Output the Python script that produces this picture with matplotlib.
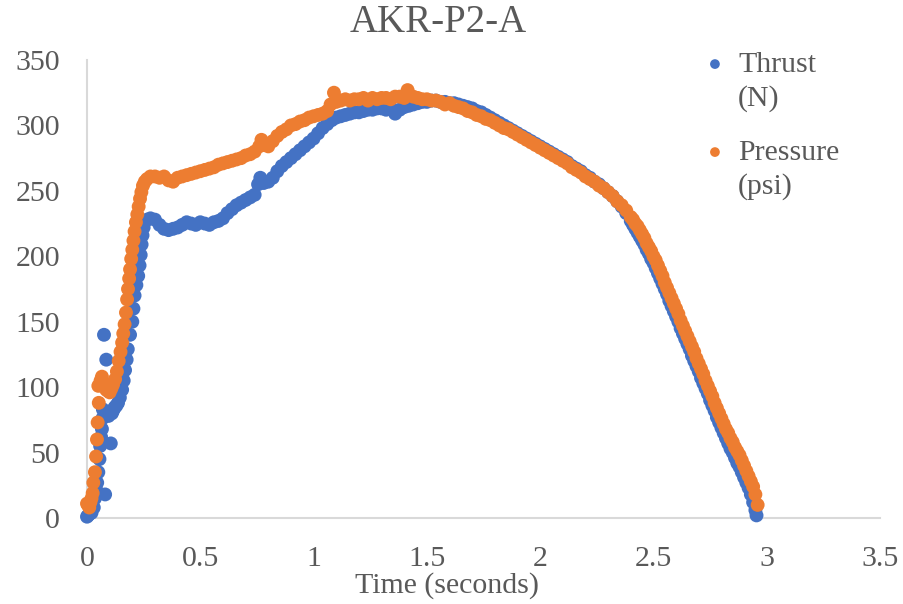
import matplotlib
matplotlib.use("Agg")
import matplotlib.pyplot as plt
from matplotlib.lines import Line2D

plt.rcParams['font.family'] = ['Liberation Serif', 'DejaVu Serif']

title = "AKR-P2-A"
x_label = "Time (seconds)"
series_names = ["Thrust", "Pressure"]
series_units = ["(N)", "(psi)"]
series_colors = ["#4472C4", "#ED7D31"]
x_ticks = [0, 0.5, 1, 1.5, 2, 2.5, 3, 3.5]
x_tick_labels = ["0", "0.5", "1", "1.5", "2", "2.5", "3", "3.5"]
y_ticks = [0, 50, 100, 150, 200, 250, 300, 350]
y_tick_labels = ["0", "50", "100", "150", "200", "250", "300", "350"]

thrust_time = [
    0.000, 0.005, 0.010, 0.015, 0.020, 0.030, 0.035, 0.040, 0.045, 0.050,
    0.055, 0.058, 0.062, 0.066, 0.068, 0.070, 0.075, 0.080, 0.085, 0.090,
    0.095, 0.100, 0.105, 0.110, 0.115, 0.120, 0.125, 0.130, 0.137, 0.145,
    0.155, 0.162, 0.168, 0.175, 0.180, 0.190, 0.200, 0.205, 0.210, 0.218,
    0.226, 0.232, 0.237, 0.241, 0.245, 0.250, 0.257, 0.265, 0.280, 0.300,
    0.320, 0.340, 0.360, 0.380, 0.400, 0.420, 0.440, 0.460, 0.480, 0.500,
    0.520, 0.540, 0.560, 0.580, 0.600, 0.620, 0.640, 0.660, 0.680, 0.700,
    0.720, 0.740, 0.755, 0.765, 0.780, 0.800, 0.820, 0.840, 0.860, 0.880,
    0.900, 0.920, 0.940, 0.960, 0.980, 1.000, 1.020, 1.040, 1.060, 1.080,
    1.100, 1.120, 1.140, 1.160, 1.180, 1.200, 1.220, 1.240, 1.260, 1.280,
    1.300, 1.320, 1.340, 1.360, 1.380, 1.400, 1.420, 1.440, 1.460, 1.480,
    1.500, 1.520, 1.540, 1.560, 1.580, 1.600, 1.620, 1.640, 1.660, 1.680,
    1.700, 1.720, 1.740, 1.760, 1.780, 1.800, 1.820, 1.840, 1.860, 1.880,
    1.900, 1.920, 1.940, 1.960, 1.980, 2.000, 2.020, 2.040, 2.060, 2.080,
    2.100, 2.120, 2.140, 2.160, 2.180, 2.200, 2.220, 2.240, 2.260, 2.280,
    2.300, 2.320, 2.340, 2.360, 2.380,
    2.40, 2.41, 2.42, 2.43, 2.44, 2.45, 2.46, 2.47, 2.48, 2.49,
    2.50, 2.51, 2.52, 2.53, 2.54, 2.55, 2.56, 2.57, 2.58, 2.59,
    2.60, 2.61, 2.62, 2.63, 2.64, 2.65, 2.66, 2.67, 2.68, 2.69,
    2.70, 2.71, 2.72, 2.73, 2.74, 2.75, 2.76, 2.77, 2.78, 2.79,
    2.80, 2.81, 2.82, 2.83, 2.84, 2.85, 2.86, 2.87, 2.88, 2.89,
    2.90, 2.91, 2.92, 2.93, 2.94, 2.95, 2.955,
]
thrust_value = [
    1, 2, 3, 5, 4, 8, 15, 22, 27, 35,
    45, 55, 62, 68, 76, 83, 140, 18, 121, 80,
    78, 80, 57, 80, 82, 84, 85, 86, 88, 92,
    98, 105, 113, 121, 129, 140, 150, 160, 170, 178,
    185, 193, 201, 209, 216, 222, 227, 228, 229, 228,
    224, 221, 220, 221, 222, 224, 226, 225, 224, 226,
    225, 224, 226, 227, 229, 233, 236, 239, 241, 243,
    245, 247, 255, 260, 256, 257, 260, 265, 269, 272,
    275, 278, 281, 284, 287, 290, 294, 298, 301, 304,
    306, 307, 308, 309, 310, 310, 311, 312, 312, 313,
    313, 312, 313, 309, 312, 314, 315, 316, 317, 318,
    318, 319, 319, 318, 318, 317, 317, 316, 315, 314,
    313, 311, 310, 308, 306, 304, 302, 300, 298, 296,
    294, 292, 290, 288, 286, 284, 282, 280, 278, 276,
    274, 272, 269, 267, 265, 262, 260, 257, 255, 252,
    249, 246, 242, 238, 233,
    227, 224, 221, 218, 215, 212, 209, 205, 202, 198,
    195, 191, 187, 183, 179, 175, 171, 166, 162, 158,
    154, 150, 145, 141, 137, 133, 129, 124, 120, 116,
    112, 107, 103, 99, 95, 90, 86, 82, 77, 73,
    69, 65, 61, 57, 53, 50, 46, 42, 39, 35,
    31, 27, 23, 18, 12, 6, 2,
]

pressure_time = [
    0.000, 0.004, 0.010, 0.015, 0.020, 0.025, 0.028, 0.035, 0.040, 0.044,
    0.047, 0.052, 0.050, 0.060, 0.066, 0.075, 0.085, 0.093, 0.100, 0.108,
    0.115, 0.124, 0.132, 0.140, 0.148, 0.155, 0.160, 0.166, 0.172, 0.177,
    0.181, 0.186, 0.190, 0.195, 0.200, 0.205, 0.210, 0.216, 0.222, 0.228,
    0.234, 0.240, 0.247, 0.255, 0.265, 0.280, 0.300, 0.320, 0.340, 0.360,
    0.380, 0.400, 0.420, 0.440, 0.460, 0.480, 0.500, 0.520, 0.540, 0.560,
    0.580, 0.600, 0.620, 0.640, 0.660, 0.680, 0.700, 0.720, 0.740, 0.760,
    0.770, 0.780, 0.800, 0.820, 0.840, 0.860, 0.880, 0.900, 0.920, 0.940,
    0.960, 0.980, 1.000, 1.020, 1.040, 1.060, 1.075, 1.090, 1.100, 1.120,
    1.140, 1.160, 1.180, 1.200, 1.220, 1.240, 1.260, 1.280, 1.300, 1.320,
    1.340, 1.360, 1.380, 1.400, 1.415, 1.440, 1.460, 1.480, 1.500, 1.520,
    1.540, 1.560, 1.580, 1.600, 1.620, 1.640, 1.660, 1.680, 1.700, 1.720,
    1.740, 1.760, 1.780, 1.800, 1.820, 1.840, 1.860, 1.880, 1.900, 1.920,
    1.940, 1.960, 1.980, 2.000, 2.020, 2.040, 2.060, 2.080, 2.100, 2.120,
    2.140, 2.160, 2.180, 2.200, 2.220, 2.240, 2.260, 2.280, 2.300, 2.320,
    2.340, 2.360, 2.380,
    2.40, 2.41, 2.42, 2.43, 2.44, 2.45, 2.46, 2.47, 2.48, 2.49,
    2.50, 2.51, 2.52, 2.53, 2.54, 2.55, 2.56, 2.57, 2.58, 2.59,
    2.60, 2.61, 2.62, 2.63, 2.64, 2.65, 2.66, 2.67, 2.68, 2.69,
    2.70, 2.71, 2.72, 2.73, 2.74, 2.75, 2.76, 2.77, 2.78, 2.79,
    2.80, 2.81, 2.82, 2.83, 2.84, 2.85, 2.86, 2.87, 2.88, 2.89,
    2.90, 2.91, 2.92, 2.93, 2.94, 2.95, 2.96,
]
pressure_value = [
    11, 10, 8, 12, 15, 19, 27, 35, 47, 60,
    73, 88, 101, 105, 108, 103, 98, 97, 96, 99,
    102, 106, 112, 120, 127, 134, 141, 148, 157, 167,
    175, 183, 190, 198, 205, 212, 219, 226, 232, 238,
    244, 249, 254, 257, 259, 261, 261, 260, 261, 258,
    257, 260, 261, 262, 263, 264, 265, 266, 267, 268,
    270, 271, 272, 273, 274, 275, 277, 278, 280, 284,
    289, 285, 284, 288, 292, 295, 297, 300, 301, 303,
    304, 306, 307, 308, 309, 311, 316, 325, 318, 319,
    320, 319, 320, 320, 321, 319, 321, 320, 321, 321,
    320, 322, 322, 321, 327, 322, 321, 320, 320, 319,
    319, 318, 316, 317, 315, 314, 313, 311, 310, 308,
    307, 305, 304, 302, 300, 298, 297, 295, 293, 291,
    289, 287, 285, 283, 281, 279, 277, 275, 273, 271,
    268, 266, 264, 261, 259, 257, 254, 252, 249, 246,
    242, 239, 235,
    230, 228, 225, 223, 220, 217, 214, 210, 207, 204,
    200, 197, 193, 189, 185, 180, 176, 172, 168, 164,
    160, 156, 151, 147, 143, 139, 135, 131, 127, 122,
    118, 114, 110, 105, 101, 97, 93, 88, 84, 80,
    76, 72, 68, 65, 61, 58, 54, 51, 48, 44,
    40, 36, 32, 28, 24, 18, 10,
]

text_color = "#595959"
axis_color = "#D9D9D9"
fs = 21.5
marker_area = 100

fig = plt.figure(figsize=(9.04, 6.04), dpi=100)
fig.patch.set_facecolor("white")
ax = fig.add_axes([87 / 904, 1 - 518 / 604, 793 / 904, 458 / 604])

h_thrust = ax.scatter(thrust_time, thrust_value, s=marker_area,
                      color=series_colors[0], edgecolors="none",
                      clip_on=False, zorder=3)
h_press = ax.scatter(pressure_time, pressure_value, s=marker_area,
                     color=series_colors[1], edgecolors="none",
                     clip_on=False, zorder=4)

ax.set_xlim(0, 3.5)
ax.set_ylim(0, 350)
ax.set_xticks(x_ticks)
ax.set_xticklabels(x_tick_labels)
ax.set_yticks(y_ticks)
ax.set_yticklabels(y_tick_labels)
ax.tick_params(axis="x", length=0, pad=20.5, labelsize=fs, labelcolor=text_color)
ax.tick_params(axis="y", length=0, pad=19.5, labelsize=fs, labelcolor=text_color)

for side in ("top", "right"):
    ax.spines[side].set_visible(False)
for side in ("left", "bottom"):
    ax.spines[side].set_color(axis_color)
    ax.spines[side].set_linewidth(1.5)
    ax.spines[side].set_zorder(1)

ax.set_xlabel(x_label, fontsize=fs, color=text_color)
ax.xaxis.set_label_coords((447 - 87) / 793, (518 - 572) / 458)
ax.xaxis.label.set_va("top")

fig.text(0.5 - 14 / 904, 1 - 32 / 604, title, fontsize=28, color=text_color,
         ha="center", va="baseline")

blank = Line2D([], [], linestyle="none", marker=None, color="none")
legend_tops = [51, 139]
handles = [h_thrust, h_press]
legends = []
for i in range(2):
    lg = ax.legend([handles[i], blank], [series_names[i], series_units[i]],
                   loc="upper left",
                   bbox_to_anchor=(703 / 904, 1 - legend_tops[i] / 604),
                   bbox_transform=fig.transFigure, frameon=False, fontsize=fs,
                   handlelength=0.8, handletextpad=0.38, borderpad=0,
                   borderaxespad=0, labelspacing=0.24, markerscale=0.7)
    for t in lg.get_texts():
        t.set_color(text_color)
    legends.append(lg)
ax.add_artist(legends[0])

fig.savefig("out.png", dpi=100, facecolor="white")
